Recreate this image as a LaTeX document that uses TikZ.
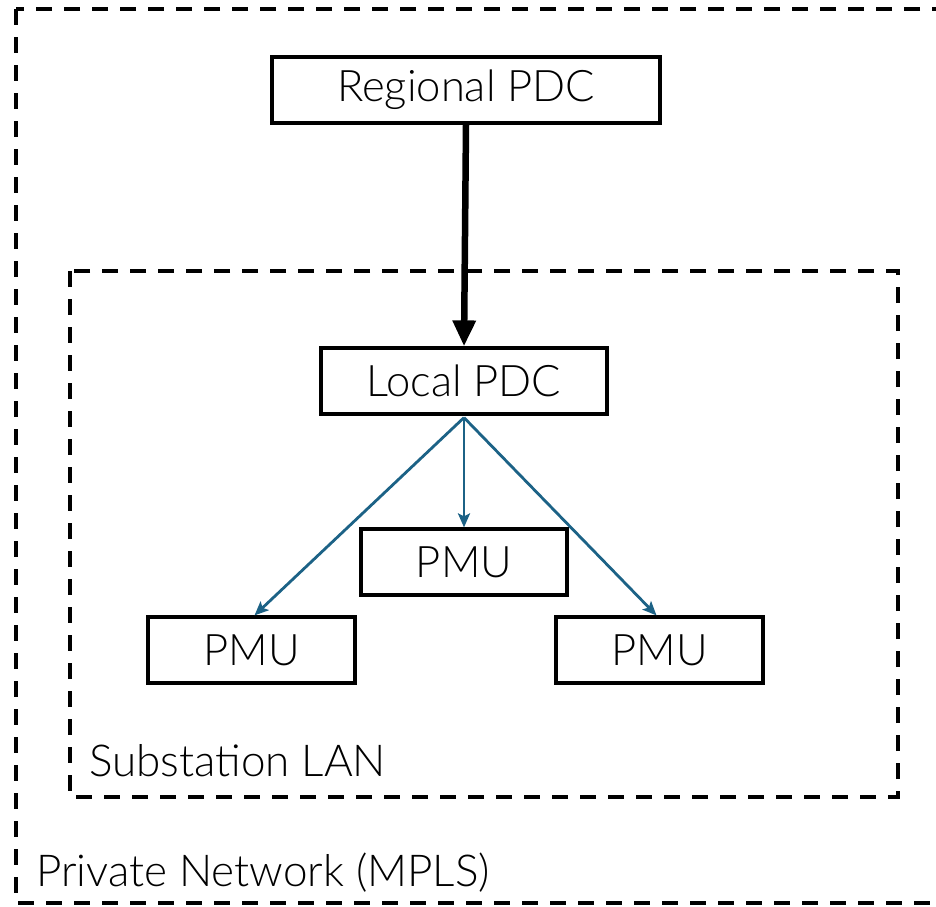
\documentclass[tikz,border=0pt]{standalone}
\usepackage{fontspec}
\setmainfont{Lato}[UprightFont=* Light]
\usetikzlibrary{arrows.meta}
\definecolor{linkblue}{RGB}{28,98,134}
\tikzset{
  box/.style={draw=black, line width=3.2pt, minimum width=#1, minimum height=66pt, inner sep=0pt, font=\fontsize{43.5}{48}\selectfont},
  zone/.style={draw=black, line width=3.6pt, dash pattern=on 16pt off 12pt},
  uplink/.style={line width=6.5pt, -{Triangle[length=26pt,width=22pt]}},
  lanlink/.style={draw=linkblue, line width=2.8pt, -{Stealth[length=14pt,width=12pt,inset=3pt]}},
  zonelabel/.style={anchor=base west, inner sep=0pt, font=\fontsize{44}{48}\selectfont}
}
\begin{document}
\begin{tikzpicture}[x=1pt,y=-1pt]
  \useasboundingbox (0,0) rectangle (936,906);
  % outer network boundary, right edge runs past the page
  \begin{scope}
    \clip (0,0) rectangle (936,906);
    \draw[zone] (16,9) rectangle (960,903);
  \end{scope}
  % substation boundary
  \draw[zone] (70,271) rectangle (898,797);

  \node[box=388pt] (rpdc) at (466,90) {Regional PDC};
  \node[box=286pt] (lpdc) at (464,381) {Local PDC};
  \node[box=206pt] (pmuc) at (464,562) {PMU};
  \node[box=207pt] (pmul) at (251.5,650) {PMU};
  \node[box=207pt] (pmur) at (659.5,650) {PMU};

  \draw[uplink] (rpdc.south) -- (lpdc.north);

  \coordinate (hub) at ([yshift=-2pt]lpdc.south);
  \draw[lanlink] (hub) -- (pmuc.north);
  \draw[lanlink] (hub) -- ([xshift=3pt]pmul.north);
  \draw[lanlink] (hub) -- ([xshift=-3pt]pmur.north);

  \node[zonelabel] (lanlabel) at (89,776) {Substation LAN};
  \node[zonelabel] (netlabel) at (36,886) {Private Network (MPLS)};
\end{tikzpicture}
\end{document}
